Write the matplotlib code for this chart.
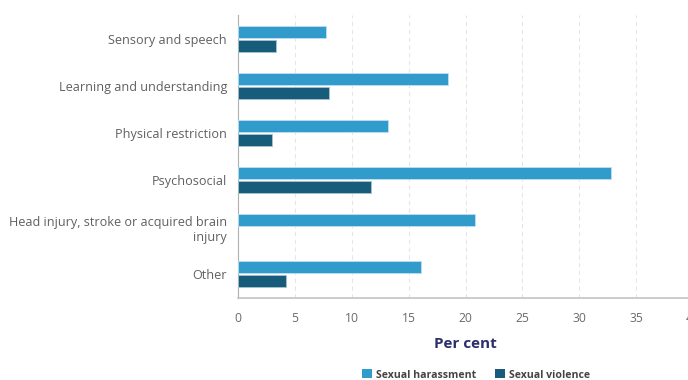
import numpy as np
import matplotlib.pyplot as plt
from matplotlib.patches import Patch

categories = ['Sensory and speech', 'Learning and understanding', 'Physical restriction',
              'Psychosocial', 'Head injury, stroke or acquired brain\ninjury', 'Other']
harassment = [7.7, 18.5, 13.2, 32.8, 20.8, 16.1]
violence = [3.3, 8.0, 3.0, 11.7, np.nan, 4.2]
xticks = [0, 5, 10, 15, 20, 25, 30, 35, 40]

c_har = '#319bcc'
c_vio = '#185c7b'

plt.rcParams['font.family'] = ['Open Sans', 'DejaVu Sans']

fig = plt.figure(figsize=(6.88, 3.80), dpi=100)
ax = fig.add_axes([238 / 688, 1 - 298 / 380, 455 / 688, 283 / 380])

y = np.arange(len(categories))
h = 0.255
ax.barh(y - 0.148, harassment, height=h, color=c_har, edgecolor='#bfe0f0', linewidth=0.6,
        label='Sexual harassment', zorder=3)
ax.barh(y + 0.148, violence, height=h, color=c_vio, edgecolor='#a9c3cf', linewidth=0.6,
        label='Sexual violence', zorder=3)

ax.set_ylim(len(categories) - 0.5, -0.5)
ax.set_xlim(0, 40)
ax.set_yticks(y)
ax.set_yticklabels(categories, fontsize=9.05, color='#606060')
ax.set_xticks(xticks)
ax.set_xticklabels([str(t) for t in xticks], fontsize=8.7, color='#6a6a6a')
ax.tick_params(axis='y', length=0, pad=8)
ax.tick_params(axis='x', length=0, pad=10)

ax.grid(axis='x', color='#e6e6e6', linestyle=(0, (4, 3)), linewidth=0.8, zorder=0)
for s in ['top', 'right']:
    ax.spines[s].set_visible(False)
ax.spines['left'].set_color('#b0b0b0')
ax.spines['bottom'].set_color('#c4c4c4')
ax.spines['bottom'].set_linewidth(1.2)

ax.set_xlabel('Per cent', fontsize=11, fontweight='bold', color='#2b2f6b', labelpad=9)

handles = [Patch(facecolor=c_har, label='Sexual harassment'),
           Patch(facecolor=c_vio, label='Sexual violence')]
fig.legend(handles=handles, loc='center', bbox_to_anchor=(476 / 688, 1 - 375 / 380), ncol=2,
           frameon=False, prop={'size': 7.6, 'weight': 'bold'}, labelcolor='#444444',
           handlelength=0.9, handleheight=0.9, handletextpad=0.4, columnspacing=1.8)

fig.savefig('out.png', dpi=100)
